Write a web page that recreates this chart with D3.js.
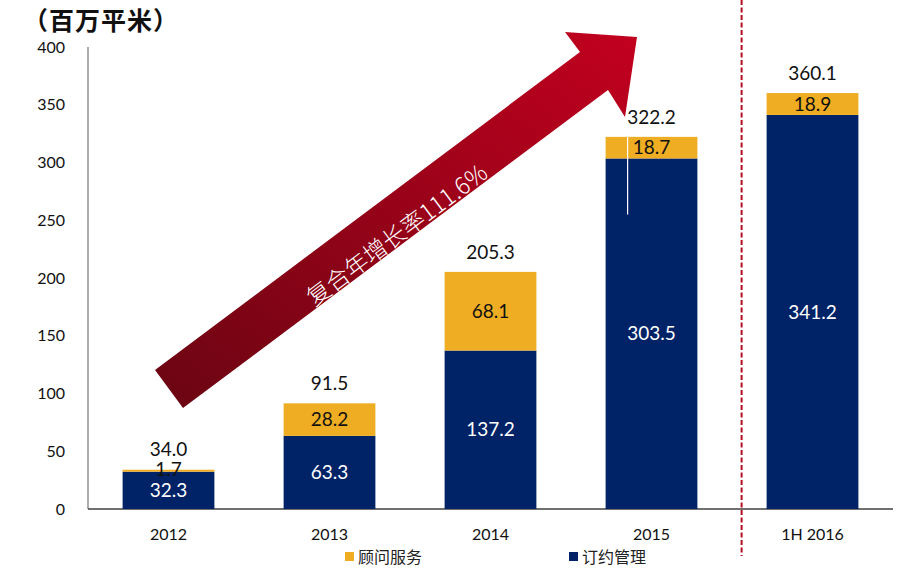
<!DOCTYPE html>
<html><head><meta charset="utf-8">
<script src="https://cdn.jsdelivr.net/npm/d3@7"></script>
<style>body{margin:0;background:#fff}svg{display:block}</style>
</head><body>
<svg id="chart" width="920" height="573"></svg>
<script>
const categories = ["2012", "2013", "2014", "2015", "1H 2016"];
const consulting = [1.7, 28.2, 68.1, 18.7, 18.9];      // 顾问服务
const contract = [32.3, 63.3, 137.2, 303.5, 341.2];    // 订约管理
const totals = [34.0, 91.5, 205.3, 322.2, 360.1];
const yTicks = [0, 50, 100, 150, 200, 250, 300, 350, 400];
const seriesNames = ["顾问服务", "订约管理"];
const unitLabel = "（百万平米）";
const cagrLabel = "复合年增长率111.6%";

const NAVY = "#002266", GOLD = "#EEAD22";
const numFont = "Lato, 'Open Sans', sans-serif";
const cjkFont = "'Noto Sans CJK SC', sans-serif";

const svg = d3.select("#chart");
const x = d3.scaleBand().domain(categories).range([88, 893]).paddingInner(0.43).paddingOuter(0.215);
const y = d3.scaleLinear().domain([0, 400]).range([509, 47]);

// gradient for arrow
const defs = svg.append("defs");
const g = defs.append("linearGradient").attr("id", "arrowGrad")
  .attr("x1", "0%").attr("y1", "100%").attr("x2", "100%").attr("y2", "0%");
g.append("stop").attr("offset", "0%").attr("stop-color", "#6a0512");
g.append("stop").attr("offset", "100%").attr("stop-color", "#c2001f");

// Axes
svg.append("line").attr("x1", 88).attr("x2", 88).attr("y1", y(400)).attr("y2", y(0))
  .attr("stroke", "#7f7f7f").attr("stroke-width", 1.3);
svg.append("line").attr("x1", 88).attr("x2", 893).attr("y1", y(0)).attr("y2", y(0))
  .attr("stroke", "#404040").attr("stroke-width", 1.3);

svg.append("g").selectAll("text").data(yTicks).join("text")
  .attr("x", 65).attr("y", d => y(d)).attr("dy", "0.35em").attr("text-anchor", "end")
  .attr("font-family", numFont).attr("font-size", 16).attr("fill", "#111")
  .text(d => d);

svg.append("g").selectAll("text").data(categories).join("text")
  .attr("x", d => x(d) + x.bandwidth() / 2).attr("y", 534).attr("dy", "0.35em")
  .attr("text-anchor", "middle").attr("font-family", numFont).attr("font-size", 16).attr("fill", "#111")
  .text(d => d);

// Bars
const data = categories.map((c, i) => ({ c, a: contract[i], b: consulting[i], t: totals[i] }));
const bars = svg.append("g");
bars.selectAll("rect.navy").data(data).join("rect").attr("class", "navy")
  .attr("x", d => x(d.c)).attr("width", x.bandwidth())
  .attr("y", d => y(d.a)).attr("height", d => y(0) - y(d.a)).attr("fill", NAVY);
bars.selectAll("rect.gold").data(data).join("rect").attr("class", "gold")
  .attr("x", d => x(d.c)).attr("width", x.bandwidth())
  .attr("y", d => y(d.a + d.b)).attr("height", d => y(d.a) - y(d.a + d.b)).attr("fill", GOLD);

// separator line (divider between full years and half year)
const divX = x("1H 2016") - 25;
svg.append("line").attr("x1", divX).attr("x2", divX).attr("y1", 0).attr("y2", 556)
  .attr("stroke", "#b01020").attr("stroke-width", 2).attr("stroke-dasharray", "5,2.5");

// thin white artifact line in 2015 bar
svg.append("line").attr("x1", x("2015") + 22).attr("x2", x("2015") + 22)
  .attr("y1", y(322.2) - 4).attr("y2", y(255)).attr("stroke", "#fff").attr("stroke-width", 1.2);

// Labels
const lab = svg.append("g").attr("font-family", numFont).attr("font-size", 19).attr("text-anchor", "middle");
lab.selectAll("text.tot").data(data).join("text").attr("class", "tot")
  .attr("x", d => x(d.c) + x.bandwidth() / 2).attr("y", d => y(d.t) - 20).attr("dy", "0.35em")
  .attr("fill", "#111").text(d => d.t.toFixed(1));
lab.selectAll("text.gl").data(data).join("text").attr("class", "gl")
  .attr("x", d => x(d.c) + x.bandwidth() / 2).attr("y", d => (y(d.a) + y(d.a + d.b)) / 2 - (d.b < 5 ? 1 : 0)).attr("dy", "0.35em")
  .attr("fill", "#111").text(d => d.b.toFixed(1));
lab.selectAll("text.nl").data(data).join("text").attr("class", "nl")
  .attr("x", d => x(d.c) + x.bandwidth() / 2).attr("y", d => (y(0) + y(d.a)) / 2 - (d.a < 40 ? 0 : 0)).attr("dy", "0.35em")
  .attr("fill", "#fff").text(d => d.a.toFixed(1));

// Arrow annotation
const arrowPts = [[155, 370], [580, 52], [565, 32], [637, 37], [625, 117], [608, 90], [183, 408]];
svg.append("path").attr("d", d3.line()(arrowPts) + "Z").attr("fill", "url(#arrowGrad)");
const ang = Math.atan2(52 - 370, 580 - 155) * 180 / Math.PI;
svg.append("text").attr("transform", `translate(397,235) rotate(${ang})`)
  .attr("text-anchor", "middle").attr("dy", "0.35em")
  .attr("font-family", "'Noto Sans CJK SC', sans-serif").attr("font-weight", 300)
  .attr("font-size", 23.5).attr("fill", "#fff").text(cagrLabel);

// Unit title
svg.append("text").attr("x", 23).attr("y", 30).attr("font-family", cjkFont)
  .attr("font-weight", "bold").attr("font-size", 25).attr("letter-spacing", 1).attr("fill", "#111").text(unitLabel);

// Legend
const legend = svg.append("g").attr("font-family", cjkFont).attr("font-size", 16).attr("fill", "#222");
const legX = [345, 569], legC = [GOLD, NAVY];
seriesNames.forEach((n, i) => {
  legend.append("rect").attr("x", legX[i]).attr("y", 552).attr("width", 9).attr("height", 9).attr("fill", legC[i]);
  legend.append("text").attr("x", legX[i] + 13).attr("y", 557).attr("dy", "0.35em").text(n);
});
</script>
</body></html>
